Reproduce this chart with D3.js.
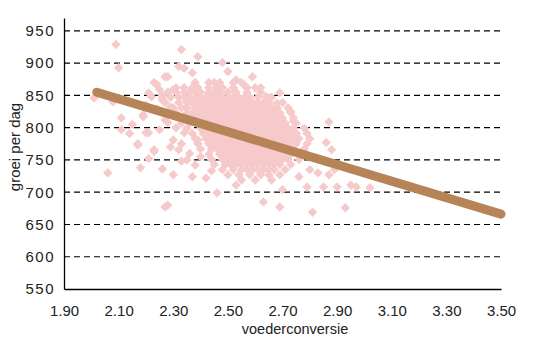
<!DOCTYPE html>
<html>
<head>
<meta charset="utf-8">
<script src="https://cdn.jsdelivr.net/npm/d3@7"></script>
<style>
  body { margin: 0; background: #fff; }
  text { font-family: "Liberation Sans", Arial, sans-serif; fill: #222; }
</style>
</head>
<body>
<div class="chart"></div>
<script>
// tick labels
const xTicks = [1.9, 2.1, 2.3, 2.5, 2.7, 2.9, 3.1, 3.3, 3.5];
const yTicks = [550, 600, 650, 700, 750, 800, 850, 900, 950];

// dense core of the cloud, read row by row: growth of the row, feed conversion values in it
const coreGrowth = [870, 862, 855, 847, 839, 831, 823, 815, 807, 799, 791, 783, 775, 767, 759, 751, 743, 735, 727, 719];
const coreConv = [
  [2.38, 2.43, 2.47, 2.52, 2.55],
  [2.31, 2.34, 2.37, 2.39, 2.43, 2.46, 2.48, 2.52, 2.57, 2.60],
  [2.28, 2.31, 2.34, 2.36, 2.38, 2.40, 2.43, 2.45, 2.47, 2.50, 2.53, 2.57, 2.62],
  [2.26, 2.29, 2.32, 2.34, 2.36, 2.38, 2.40, 2.42, 2.44, 2.46, 2.48, 2.50, 2.52, 2.54, 2.56, 2.58, 2.61, 2.66],
  [2.27, 2.32, 2.35, 2.37, 2.39, 2.41, 2.43, 2.45, 2.47, 2.49, 2.51, 2.53, 2.55, 2.57, 2.59, 2.61, 2.63, 2.65, 2.70],
  [2.30, 2.33, 2.35, 2.38, 2.40, 2.42, 2.44, 2.46, 2.48, 2.50, 2.52, 2.54, 2.56, 2.58, 2.60, 2.62, 2.64, 2.66, 2.68, 2.72],
  [2.31, 2.35, 2.37, 2.39, 2.41, 2.43, 2.45, 2.47, 2.49, 2.51, 2.53, 2.55, 2.57, 2.59, 2.61, 2.63, 2.65, 2.67, 2.69, 2.73],
  [2.34, 2.36, 2.38, 2.40, 2.42, 2.44, 2.46, 2.48, 2.50, 2.52, 2.54, 2.56, 2.58, 2.60, 2.62, 2.64, 2.66, 2.68, 2.70, 2.74],
  [2.33, 2.36, 2.39, 2.41, 2.43, 2.45, 2.47, 2.49, 2.51, 2.53, 2.55, 2.57, 2.59, 2.61, 2.63, 2.65, 2.67, 2.69, 2.71, 2.75],
  [2.35, 2.40, 2.42, 2.44, 2.46, 2.48, 2.50, 2.52, 2.54, 2.56, 2.58, 2.60, 2.62, 2.64, 2.66, 2.68, 2.70, 2.72, 2.74, 2.78],
  [2.37, 2.41, 2.43, 2.45, 2.47, 2.49, 2.51, 2.53, 2.55, 2.57, 2.59, 2.61, 2.63, 2.65, 2.67, 2.69, 2.71, 2.73, 2.75, 2.79],
  [2.38, 2.42, 2.44, 2.46, 2.48, 2.50, 2.52, 2.54, 2.56, 2.58, 2.60, 2.62, 2.64, 2.66, 2.68, 2.70, 2.72, 2.74, 2.76, 2.80],
  [2.39, 2.43, 2.45, 2.47, 2.49, 2.51, 2.53, 2.55, 2.57, 2.59, 2.61, 2.63, 2.65, 2.67, 2.69, 2.71, 2.73, 2.75, 2.79],
  [2.40, 2.44, 2.46, 2.48, 2.50, 2.52, 2.54, 2.56, 2.58, 2.60, 2.62, 2.64, 2.66, 2.68, 2.70, 2.72, 2.74, 2.78],
  [2.43, 2.47, 2.49, 2.51, 2.53, 2.55, 2.57, 2.59, 2.61, 2.63, 2.65, 2.67, 2.69, 2.71, 2.73, 2.77],
  [2.44, 2.48, 2.50, 2.52, 2.54, 2.56, 2.58, 2.60, 2.62, 2.64, 2.66, 2.68, 2.70, 2.72, 2.76],
  [2.45, 2.49, 2.51, 2.53, 2.55, 2.57, 2.59, 2.61, 2.63, 2.65, 2.67, 2.69, 2.73],
  [2.48, 2.52, 2.55, 2.57, 2.59, 2.61, 2.63, 2.65, 2.67, 2.71],
  [2.50, 2.54, 2.58, 2.62, 2.65, 2.69],
  [2.55, 2.60, 2.66]
];

// loose points around the core
const looseConv = [2.09, 2.10, 2.01, 2.11, 2.06, 2.11, 2.14, 2.17, 2.21, 2.23, 2.21, 2.18, 2.26, 2.30, 2.27,
  2.08, 2.19, 2.22, 2.24, 2.28, 2.32, 2.33, 2.34, 2.39, 2.48, 2.37, 2.50, 2.59, 2.53, 2.64,
  2.23, 2.25, 2.30, 2.27, 2.26, 2.29, 2.21, 2.31, 2.28, 2.35, 2.36, 2.39, 2.19, 2.20, 2.17,
  2.23, 2.25, 2.30, 2.34, 2.32, 2.35, 2.40, 2.37, 2.42, 2.46, 2.53, 2.63, 2.69, 2.28,
  2.73, 2.87, 2.86, 2.88, 2.83, 2.87, 2.90, 2.85, 2.79, 2.76, 2.70, 2.80, 2.81, 2.93, 3.02,
  2.95, 2.97, 2.89, 2.62, 2.65, 2.69,
  2.24, 2.27, 2.31, 2.33, 2.29, 2.36, 2.38, 2.44, 2.33, 2.26, 2.20, 2.15, 2.45, 2.56, 2.68, 2.74];
const looseGrowth = [929, 893, 846, 815, 730, 797, 791, 775, 792, 763, 752, 738, 736, 727, 677,
  840, 820, 848, 867, 879, 895, 921, 892, 910, 901, 885, 887, 879, 874, 848,
  870, 859, 859, 879, 843, 832, 854, 817, 808, 831, 808, 781, 817, 792, 773,
  766, 797, 781, 792, 766, 750, 755, 724, 722, 699, 711, 685, 677, 680,
  825, 809, 777, 766, 730, 727, 708, 708, 708, 724, 704, 735, 669, 676, 707,
  711, 708, 735, 862, 846, 854,
  829, 812, 800, 775, 770, 760, 742, 733, 748, 850, 835, 805, 870, 866, 838, 810];

// regression line end points
const trendConv = [2.02, 3.50];
const trendGrowth = [855, 666];

const width = 543;
const height = 354;

const x = d3.scaleLinear().domain([1.9, 3.5]).range([64, 501]);
const y = d3.scaleLinear().domain([550, 970]).range([289, 18]);

const svg = d3.select(".chart")
  .append("svg")
  .attr("width", width)
  .attr("height", height);

// dashed grid
svg.selectAll(".grid")
  .data(yTicks.filter(d => d > 550))
  .enter()
  .append("line")
  .attr("x1", x(1.9))
  .attr("x2", x(3.5))
  .attr("y1", d => y(d))
  .attr("y2", d => y(d))
  .attr("stroke", "#000")
  .attr("stroke-width", 1.2)
  .attr("stroke-dasharray", "6,4");

// points
let points = [];
coreGrowth.forEach((g, i) => {
  coreConv[i].forEach(c => points.push({conv: c, growth: g}));
});
looseConv.forEach((c, i) => points.push({conv: c, growth: looseGrowth[i]}));

const r = 4.7;
svg.selectAll(".pt")
  .data(points)
  .enter()
  .append("path")
  .attr("d", `M0,${-r}L${r},0L0,${r}L${-r},0Z`)
  .attr("transform", d => "translate(" + x(d.conv) + "," + y(d.growth) + ")")
  .attr("fill", "#f6caca");

// trend line
const line = d3.line().x(d => x(d[0])).y(d => y(d[1]));
svg.append("path")
  .attr("d", line(trendConv.map((c, i) => [c, trendGrowth[i]])))
  .attr("fill", "none")
  .attr("stroke", "#b78457")
  .attr("stroke-width", 9)
  .attr("stroke-linecap", "round");

// axes
const xAxis = svg.append("g")
  .attr("transform", "translate(0," + y(550) + ")")
  .call(d3.axisBottom(x).tickValues(xTicks).tickSize(0).tickPadding(16).tickFormat(d3.format(".2f")));
xAxis.selectAll("text").style("font-size", "15px");

const yAxis = svg.append("g")
  .attr("transform", "translate(" + x(1.9) + ",0)")
  .call(d3.axisLeft(y).tickValues(yTicks).tickSize(0).tickPadding(9));
yAxis.selectAll("text").style("font-size", "15px").style("letter-spacing", "1.5px");

svg.selectAll(".domain").attr("stroke", "#000").attr("stroke-width", 1.3);

// axis titles
svg.append("text")
  .attr("x", 295)
  .attr("y", 334)
  .style("text-anchor", "middle")
  .style("font-size", "14.5px")
  .text("voederconversie");

svg.append("text")
  .attr("transform", "translate(20,147) rotate(-90)")
  .style("text-anchor", "middle")
  .style("font-size", "15px")
  .text("groei per dag");
</script>
</body>
</html>
